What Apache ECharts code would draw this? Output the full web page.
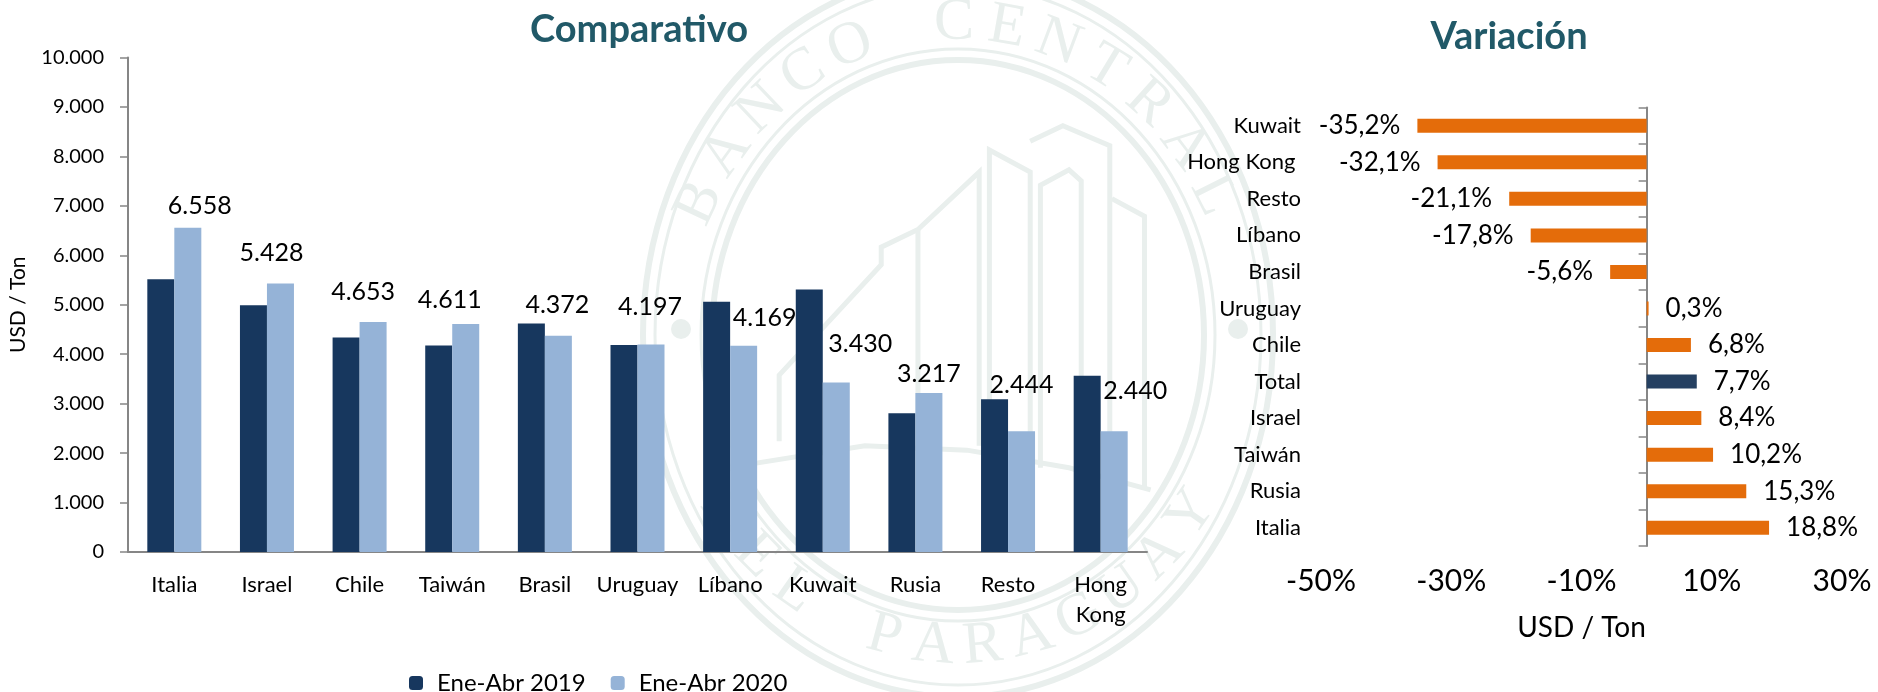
<!DOCTYPE html>
<html>
<head>
<meta charset="utf-8">
<title>Comparativo y Variación</title>
<style>
  html, body { margin: 0; padding: 0; background: #fff; }
  #chart { width: 1878px; height: 692px; }
</style>
<script src="https://cdn.jsdelivr.net/npm/echarts@6/dist/echarts.min.js"></script>
</head>
<body>
<div id="chart"></div>
<script>
// datos
const paises = ['Italia', 'Israel', 'Chile', 'Taiwán', 'Brasil', 'Uruguay', 'Líbano', 'Kuwait', 'Rusia', 'Resto', 'Hong\nKong'];
const ene2019 = [5515, 4990, 4340, 4175, 4620, 4185, 5060, 5310, 2808, 3090, 3565];
const ene2020 = [6558, 5428, 4653, 4611, 4372, 4197, 4169, 3430, 3217, 2444, 2440];
const paisesVar = ['Italia', 'Rusia', 'Taiwán', 'Israel', 'Total', 'Chile', 'Uruguay', 'Brasil', 'Líbano', 'Resto', 'Hong Kong ', 'Kuwait'];
const variacion = [18.8, 15.3, 10.2, 8.4, 7.7, 6.8, 0.3, -5.6, -17.8, -21.1, -32.1, -35.2];
const ticksVar = [-50, -30, -10, 10, 30];

// el grafico original mueve a mano las etiquetas de la serie 2020
const labelShift = [[12, -9], [-9, -18], [-10, -17], [-16, -12], [-1, -18], [-1, -25], [21, -15], [24, -26], [0, -6], [0, -34], [21, -28]];

const fontName = 'Lato';
const axisGray = '#868686';
const miles = v => String(v).replace(/\B(?=(\d{3})+$)/g, '.');

// sello de fondo
const sealColor = '#e9efed';
const sealCx = 958, sealCy = 335;
function ring(rx, ry, w) {
    return {
        type: 'ellipse', z: -10, silent: true,
        shape: { cx: sealCx, cy: sealCy, rx: rx, ry: ry },
        style: { fill: null, stroke: sealColor, lineWidth: w }
    };
}
function arcText(txt, fromDeg, stepDeg, bottom) {
    const out = [];
    Array.from(txt).forEach((ch, i) => {
        if (ch === ' ') return;
        const t = (fromDeg + stepDeg * i) * Math.PI / 180;
        const x = sealCx + 285 * Math.cos(t);
        const y = sealCy - 312 * Math.sin(t);
        const rot = bottom ? t + Math.PI / 2 : t - Math.PI / 2;
        out.push({
            type: 'text', z: -10, silent: true, x: x, y: y, rotation: rot,
            style: { text: ch, font: '60px "Liberation Serif"', fill: sealColor, align: 'center', verticalAlign: 'middle' }
        });
    });
    return out;
}
function trazo(pts) {
    return {
        type: 'polyline', z: -10, silent: true,
        shape: { points: pts.map(p => [620 + p[0] / 2.45, p[1] / 2.266]) },
        style: { fill: null, stroke: sealColor, lineWidth: 5 }
    };
}
const sello = [
    ring(315, 362, 6), ring(303, 350, 3), ring(246, 275, 6), ring(257, 286, 3),
    { type: 'circle', z: -10, silent: true, shape: { cx: 681, cy: 329, r: 10 }, style: { fill: sealColor } },
    { type: 'circle', z: -10, silent: true, shape: { cx: 1238, cy: 329, r: 10 }, style: { fill: sealColor } },
    ...arcText('BANCO CENTRAL', 155, -10.7, false),
    ...arcText('DEL PARAGUAY', 215, 10, true),
    trazo([[390, 1000], [390, 850], [640, 600], [640, 560], [730, 520], [880, 390], [880, 1010]]),
    trazo([[730, 520], [730, 1010]]),
    trazo([[905, 1010], [905, 340], [1005, 390], [1005, 1050]]),
    trazo([[1005, 320], [1085, 285], [1200, 330], [1200, 1090]]),
    trazo([[1030, 1060], [1030, 420], [1100, 385], [1130, 410], [1130, 1070]]),
    trazo([[1205, 450], [1285, 490], [1285, 1110]]),
    trazo([[330, 1050], [600, 1010], [850, 1020], [1100, 1060], [1300, 1110]])
];

const chart = echarts.init(document.getElementById('chart'));
chart.setOption({
    animation: false,
    textStyle: { fontFamily: fontName, color: '#000' },
    graphic: sello,
    title: [
        { text: 'Comparativo', left: 634, top: 6, textAlign: 'center', textStyle: { fontFamily: fontName, fontSize: 38, fontWeight: 'bold', color: '#215968' } },
        { text: 'Variación', left: 1504, top: 13, textAlign: 'center', textStyle: { fontFamily: fontName, fontSize: 38, fontWeight: 'bold', color: '#215968' } }
    ],
    legend: {
        data: ['Ene-Abr 2019', 'Ene-Abr 2020'],
        left: 404, top: 666,
        itemWidth: 14, itemHeight: 14, itemGap: 25,
        textStyle: { fontFamily: fontName, fontSize: 24, color: '#000', padding: [0, 0, 0, 9] }
    },
    grid: [
        { left: 126.5, top: 57.5, width: 1020.5, height: 494.5 },
        { left: 1321, top: 107.5, width: 521, height: 438.5 }
    ],
    xAxis: [
        {
            type: 'category', gridIndex: 0, data: paises,
            axisLine: { lineStyle: { color: axisGray, width: 2 } },
            axisTick: { length: 8, lineStyle: { color: axisGray, width: 1.5 } },
            axisLabel: { color: '#000', fontSize: 22, margin: 18, lineHeight: 30, interval: 0 }
        },
        {
            type: 'value', gridIndex: 1, min: -50, max: 30,
            axisLine: { onZero: false, lineStyle: { color: axisGray, width: 2 } },
            axisTick: { length: 8, customValues: ticksVar, lineStyle: { color: axisGray, width: 1.5 } },
            axisLabel: { color: '#000', fontSize: 30, margin: 20, customValues: ticksVar, formatter: v => v + '%' },
            splitLine: { show: false },
            name: 'USD / Ton', nameLocation: 'middle', nameGap: 68,
            nameTextStyle: { color: '#000', fontSize: 28 }
        }
    ],
    yAxis: [
        {
            type: 'value', gridIndex: 0, min: 0, max: 10000, interval: 1000,
            axisLine: { show: true, lineStyle: { color: axisGray, width: 2 } },
            axisTick: { show: true, length: 8, lineStyle: { color: axisGray, width: 1.5 } },
            axisLabel: { color: '#000', fontSize: 20, margin: 24, formatter: v => miles(v) },
            splitLine: { show: false },
            name: 'USD / Ton', nameLocation: 'middle', nameGap: 99, nameRotate: 90,
            nameTextStyle: { color: '#000', fontSize: 21 }
        },
        {
            type: 'category', gridIndex: 1, data: paisesVar, position: 'left',
            axisLine: { show: false, onZero: false },
            axisTick: { show: false },
            axisLabel: { color: '#000', fontSize: 22, margin: 20, interval: 0 }
        },
        {
            // linea vertical en cero, sin etiquetas
            type: 'category', gridIndex: 1, data: paisesVar, position: 'left',
            axisLine: { show: true, onZero: true, lineStyle: { color: axisGray, width: 2 } },
            axisTick: { show: true, length: 8, lineStyle: { color: axisGray, width: 1.5 } },
            axisLabel: { show: false }
        }
    ],
    series: [
        {
            name: 'Ene-Abr 2019', type: 'bar', xAxisIndex: 0, yAxisIndex: 0,
            data: ene2019, barWidth: 27, barGap: 0,
            itemStyle: { color: '#17375e' }
        },
        {
            name: 'Ene-Abr 2020', type: 'bar', xAxisIndex: 0, yAxisIndex: 0,
            data: ene2020.map((v, i) => ({
                value: v,
                label: { offset: labelShift[i] }
            })),
            barWidth: 27, barGap: 0,
            itemStyle: { color: '#95b3d7' },
            label: {
                show: true, position: 'top', distance: 0, fontSize: 25, color: '#000',
                formatter: p => miles(p.value)
            }
        },
        {
            name: 'Variación', type: 'bar', xAxisIndex: 1, yAxisIndex: 1,
            data: variacion.map(v => ({
                value: v,
                label: { position: v < 0 ? 'left' : 'right' }
            })),
            barWidth: 14,
            itemStyle: { color: p => p.name === 'Total' ? '#254061' : '#e46c0a' },
            label: {
                show: true, distance: 17, fontSize: 26, color: '#000',
                formatter: p => p.value.toFixed(1).replace('.', ',') + '%'
            }
        }
    ]
});
window.addEventListener('resize', () => chart.resize());
</script>
</body>
</html>
